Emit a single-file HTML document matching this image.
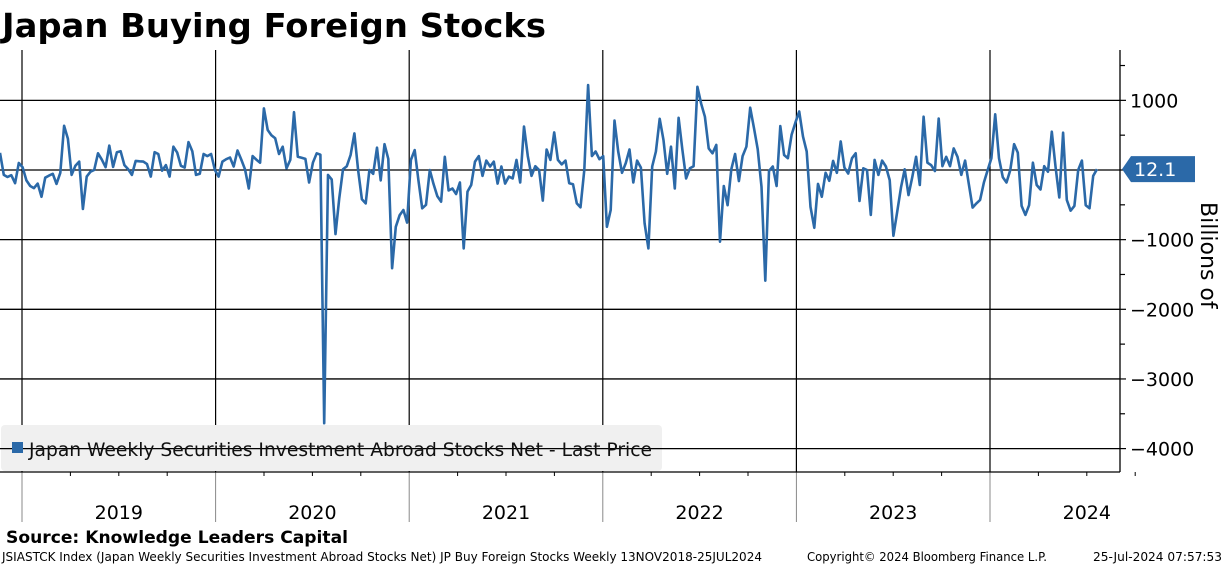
<!DOCTYPE html>
<html><head><meta charset="utf-8"><style>
body{margin:0;background:#fff;width:1224px;height:566px;overflow:hidden;font-family:"Liberation Sans",sans-serif}
svg{display:block}
</style></head><body>
<svg id="chart" width="1224" height="566" xmlns="http://www.w3.org/2000/svg">
<text x="2" y="37" font-family="DejaVu Sans, Liberation Sans, sans-serif" font-weight="bold" font-size="33" textLength="544" lengthAdjust="spacingAndGlyphs">Japan Buying Foreign Stocks</text>
<g id="grid"></g>
<rect x="1" y="425" width="661" height="46" rx="4" fill="#f0f0f0"/>
<g id="grid2"></g>
<path id="line" fill="none" stroke="#2b69a8" stroke-width="2.6" stroke-linejoin="round"/>
<rect x="12" y="442" width="11" height="11" fill="#2b69a8"/>
<text x="29" y="456" font-family="DejaVu Sans, sans-serif" font-size="19" fill="#111" textLength="623" lengthAdjust="spacingAndGlyphs">Japan Weekly Securities Investment Abroad Stocks Net - Last Price</text>
<g id="axis"></g>
<text transform="translate(1201,202) rotate(90)" font-family="DejaVu Sans, sans-serif" font-size="22" fill="#000">Billions of</text>
<text x="6" y="543" font-family="DejaVu Sans, sans-serif" font-weight="bold" font-size="17" textLength="342" lengthAdjust="spacingAndGlyphs">Source: Knowledge Leaders Capital</text>
<text x="2" y="561" font-family="DejaVu Sans, sans-serif" font-size="12" textLength="760" lengthAdjust="spacingAndGlyphs">JSIASTCK Index (Japan Weekly Securities Investment Abroad Stocks Net) JP Buy Foreign Stocks  Weekly 13NOV2018-25JUL2024</text>
<text x="807" y="561" font-family="DejaVu Sans, sans-serif" font-size="12" textLength="240" lengthAdjust="spacingAndGlyphs">Copyright© 2024 Bloomberg Finance L.P.</text>
<text x="1093" y="561" font-family="DejaVu Sans, sans-serif" font-size="12" textLength="129" lengthAdjust="spacingAndGlyphs">25-Jul-2024 07:57:53</text>
</svg>
<script>
const years=["2019","2020","2021","2022","2023","2024"];
const yTicks=[1000,-1000,-2000,-3000,-4000];
const gridVals=[1000,0,-1000,-2000,-3000,-4000];
const lastValue=12.1;
const values=[245,-70,-100,-75,-190,100,40,-150,-230,-260,-195,-385,-110,-80,-55,-200,-40,635,450,-70,60,120,-560,-95,-25,0,240,150,40,350,45,255,270,70,10,-70,130,125,120,85,-95,255,230,-10,70,-95,335,250,60,35,400,270,-70,-55,230,200,230,0,-95,120,
155,180,50,280,150,10,-265,200,150,105,885,575,500,455,230,335,25,145,830,190,175,160,-180,105,240,220,-3635,-70,-135,-920,-400,10,55,215,525,0,-420,-480,0,-55,320,-150,370,160,-1410,-815,-650,-575,-755,145,
285,-145,-550,-500,0,-200,-375,-455,190,-295,-265,-345,-180,-1125,-310,-215,120,200,-85,135,50,120,-195,50,-195,-95,-120,145,-180,625,200,-85,55,0,-440,295,145,540,145,80,135,-190,-205,-480,-535,0,1220,200,265,155,200,-815,
-575,710,265,-40,100,295,-180,135,35,-765,-1125,50,265,735,430,-55,335,-265,750,300,-120,25,55,1195,950,765,310,240,360,-1030,-230,-505,10,230,-160,200,335,895,600,300,-240,-1590,-15,50,-230,630,215,170,505,680,840,480,
265,-530,-830,-200,-385,-40,-155,130,-40,410,35,-50,170,240,-445,25,0,-645,145,-70,135,50,-145,-945,-600,-250,10,-360,-100,190,-215,765,105,70,-15,740,55,190,55,310,190,-70,135,-200,-540,-480,-430,-180,0,170,800,
170,-105,-180,0,370,250,-515,-645,-505,105,-215,-280,55,-25,550,50,-395,535,-430,-585,-515,0,135,-505,-550,-85,12.1];

const NS="http://www.w3.org/2000/svg";
const X0=0,X1=1097,plotRight=1120,plotTop=50,plotBottom=472;
const yS=v=>170-v*0.06965;
const xS=i=>X0+(X1-X0)*i/(values.length-1);
const yearX=i=>22+193.6*i;
function mk(tag,attrs,parent){const e=document.createElementNS(NS,tag);for(const k in attrs)e.setAttribute(k,attrs[k]);parent.appendChild(e);return e;}
const grid=document.getElementById('grid'),grid2=document.getElementById('grid2'),axis=document.getElementById('axis');
gridVals.forEach(v=>{
  const g=(v===-4000)?grid2:grid;
  const l=mk('line',{x1:0,x2:plotRight,y1:yS(v),y2:yS(v),stroke:'#000','stroke-width':1.3},g);
  
  
});
years.forEach((yr,i)=>{
  const x=yearX(i);
  const l=mk('line',{x1:x,x2:x,y1:plotTop,y2:plotBottom,stroke:'#000','stroke-width':1.2},grid);
  
  
  const l2=mk('line',{x1:x,x2:x,y1:plotBottom,y2:522,stroke:'#888','stroke-width':1},axis);
  
  
  for(let q=1;q<4;q++){const t=mk('line',{x1:x+48.4*q,x2:x+48.4*q,y1:plotBottom,y2:plotBottom+4,stroke:'#000','stroke-width':1},axis);
    
    }
  const t=mk('text',{x:x+96.8,y:519,'text-anchor':'middle','font-family':'DejaVu Sans, sans-serif','font-size':19},axis);
  t.textContent=yr;
  
  
});
const ax=mk('line',{x1:0,x2:plotRight,y1:plotBottom,y2:plotBottom,stroke:'#000','stroke-width':1.3},axis);


const ra=mk('line',{x1:plotRight,x2:plotRight,y1:plotTop,y2:plotBottom,stroke:'#000','stroke-width':1.3},axis);


for(let v=1500;v>=-4000;v-=500){
  const major=v%1000===0;
  const m=mk('line',{x1:plotRight,x2:plotRight+(major?6:5),y1:yS(v),y2:yS(v),stroke:'#000','stroke-width':1.2},axis);
  
  
}
yTicks.forEach(v=>{
  const t=mk('text',{x:1130,y:yS(v)+7,'font-family':'DejaVu Sans, sans-serif','font-size':19},axis);
  t.textContent=v<0?'\u2212'+Math.abs(v):String(v);
  
  
});
document.getElementById('line').setAttribute('d',values.map((v,i)=>(i?'L':'M')+xS(i).toFixed(1)+' '+yS(v).toFixed(1)).join(' '));
const ly=yS(lastValue);
const tag=mk('path',{d:`M1122 ${ly} L1131 ${ly-13} L1195 ${ly-13} L1195 ${ly+13} L1131 ${ly+13} Z`,fill:'#2b69a8'},axis);


const tt=mk('text',{x:1134,y:ly+7,'font-family':'DejaVu Sans, sans-serif','font-size':19,fill:'#fff'},axis);
tt.textContent=String(lastValue);


</script>
</body></html>
